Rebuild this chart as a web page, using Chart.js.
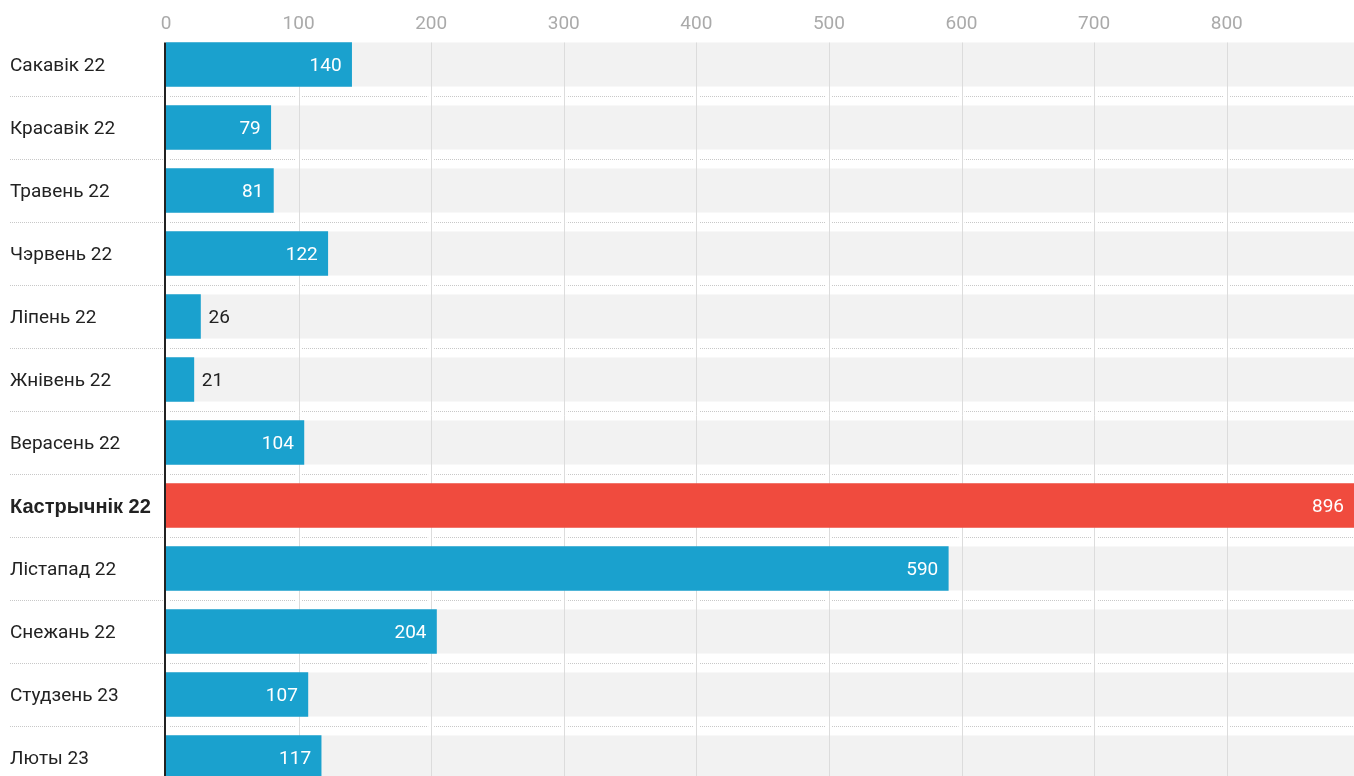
<!DOCTYPE html>
<html>
<head>
<meta charset="utf-8">
<script src="https://cdn.jsdelivr.net/npm/chart.js@4"></script>
<style>
  html, body { margin: 0; padding: 0; background: #fff; overflow: hidden; }
  #box { width: 1354px; height: 776px; overflow: hidden; position: relative; }
  #myChart { position: absolute; left: 0; top: 0; }
</style>
</head>
<body>
<div id="box"><canvas id="myChart" width="1354" height="789"></canvas></div>
<script>
const months = ['Сакавік 22', 'Красавік 22', 'Травень 22', 'Чэрвень 22', 'Ліпень 22', 'Жнівень 22',
  'Верасень 22', 'Кастрычнік 22', 'Лістапад 22', 'Снежань 22', 'Студзень 23', 'Люты 23'];
const counts = [140, 79, 81, 122, 26, 21, 104, 896, 590, 204, 107, 117];
const xTicks = [0, 100, 200, 300, 400, 500, 600, 700, 800];
const highlight = 'Кастрычнік 22';

const blue = 'rgb(26, 161, 206)';
const red = 'rgb(240, 75, 62)';

// grey tracks behind bars, grid, separators, zero line, value labels
const decor = {
  id: 'decor',
  beforeDatasetsDraw(chart) {
    const c = chart.ctx, area = chart.chartArea;
    const x = chart.scales.x;
    const bars = chart.getDatasetMeta(0).data;
    c.save();
    c.fillStyle = '#f2f2f2';
    bars.forEach(b => {
      c.fillRect(area.left, b.y - b.height / 2, area.right - area.left, b.height);
    });
    // dotted separators between rows
    c.strokeStyle = '#c8c8c8';
    c.lineWidth = 1;
    c.setLineDash([1, 1]);
    const seps = [];
    for (let i = 0; i < bars.length - 1; i++) {
      const y = Math.round((bars[i].y + bars[i].height / 2 + bars[i + 1].y - bars[i + 1].height / 2) / 2) + 0.5;
      seps.push(y);
      c.beginPath();
      c.moveTo(10, y);
      c.lineTo(chart.width, y);
      c.stroke();
    }
    c.setLineDash([]);
    // gaps in separators around grid lines
    c.fillStyle = '#fff';
    xTicks.forEach(v => {
      const px = x.getPixelForValue(v);
      seps.forEach(y => c.fillRect(px - 3, y - 1, 6, 2));
    });
    // vertical grid lines
    const top = bars[0].y - bars[0].height / 2;
    c.strokeStyle = '#dcdcdc';
    xTicks.forEach(v => {
      if (v === 0) return;
      const px = Math.round(x.getPixelForValue(v)) + 0.5;
      c.beginPath();
      c.moveTo(px, top);
      c.lineTo(px, chart.height);
      c.stroke();
    });
    c.restore();
  },
  afterDatasetsDraw(chart) {
    const c = chart.ctx;
    const x = chart.scales.x;
    const bars = chart.getDatasetMeta(0).data;
    c.save();
    // zero line
    const top = bars[0].y - bars[0].height / 2;
    c.strokeStyle = '#222';
    c.lineWidth = 2;
    c.beginPath();
    c.moveTo(x.getPixelForValue(0) - 1, top);
    c.lineTo(x.getPixelForValue(0) - 1, chart.height);
    c.stroke();
    // value labels
    c.font = '19px Roboto';
    c.textBaseline = 'middle';
    bars.forEach((b, i) => {
      const w = b.x - b.base;
      if (w > 60) {
        c.fillStyle = '#fff';
        c.textAlign = 'right';
        c.fillText(counts[i], b.x - 10, b.y + 2);
      } else {
        c.fillStyle = '#222';
        c.textAlign = 'left';
        c.fillText(counts[i], b.x + 8, b.y + 2);
      }
    });
    c.restore();
  }
};

new Chart(document.getElementById('myChart'), {
  type: 'bar',
  data: {
    labels: months,
    datasets: [{
      data: counts,
      backgroundColor: months.map(m => m === highlight ? red : blue),
      borderWidth: 0,
      barThickness: 44
    }]
  },
  options: {
    indexAxis: 'y',
    responsive: false,
    animation: false,
    layout: { padding: { left: 10, right: 0, top: 0, bottom: 0 } },
    plugins: {
      legend: { display: false },
      tooltip: { enabled: false }
    },
    scales: {
      x: {
        position: 'top',
        min: 0,
        max: 896,
        afterBuildTicks: s => { s.ticks = xTicks.map(v => ({ value: v })); },
        afterFit: s => { s.height = 33; },
        border: { display: false },
        grid: { display: false, drawTicks: false },
        ticks: {
          color: '#aaaaaa',
          font: { family: 'Roboto', size: 19 },
          padding: -3
        }
      },
      y: {
        afterFit: s => { s.width = 156; s.paddingTop = 0; s.paddingBottom = 0; },
        border: { display: false },
        grid: { display: false, drawTicks: false },
        ticks: {
          crossAlign: 'far',
          labelOffset: 2,
          color: '#222',
          font: ctx => months[ctx.index] === highlight
            ? { family: 'Liberation Sans', size: 20, weight: 'bold' }
            : { family: 'Roboto', size: 19, weight: 'normal' }
        }
      }
    }
  },
  plugins: [decor]
});
</script>
</body>
</html>
